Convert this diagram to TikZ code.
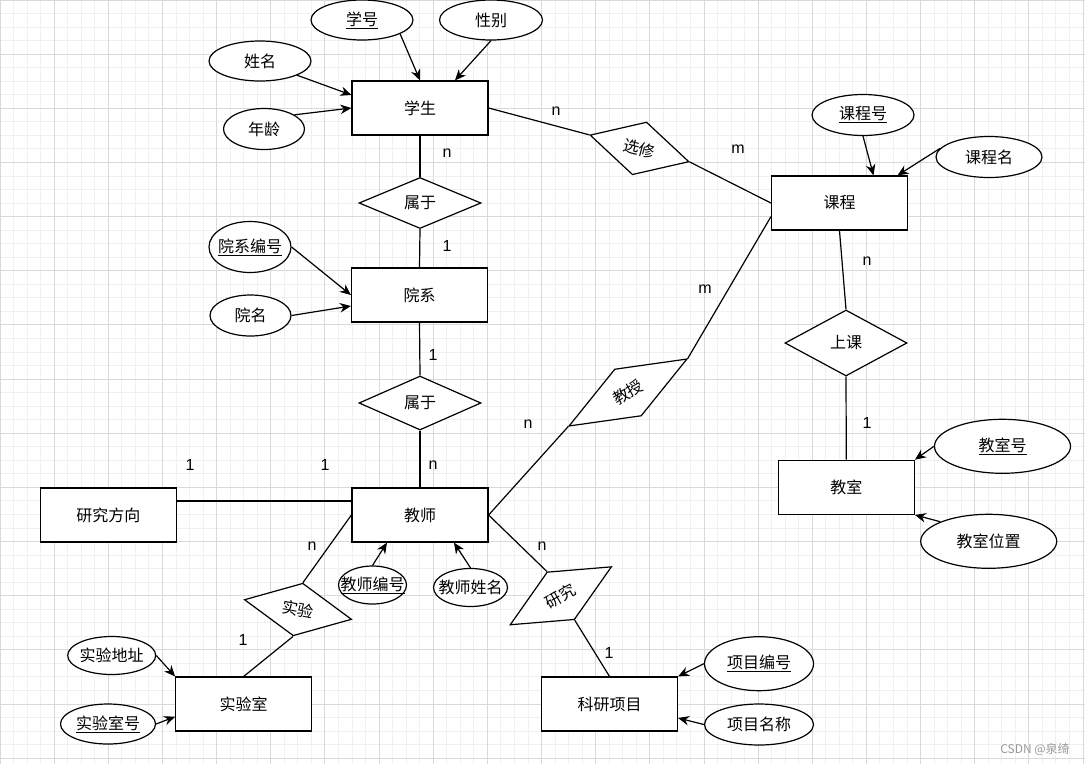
\documentclass[tikz,border=0pt]{standalone}
\usepackage{fontspec}
\setmainfont{Noto Sans CJK SC}
\newfontfamily\lat{Liberation Sans}
\usetikzlibrary{shapes.geometric,arrows.meta}
\newcommand\mk[1]{\makebox[0pt]{#1}}
\begin{document}
\begin{tikzpicture}[x=1pt,y=-1pt,
  every node/.style={font=\fontsize{16}{19}\selectfont},
  ent/.style={draw, line width=1.2pt, minimum width=136pt, minimum height=54pt, inner sep=0pt, fill=white},
  attr/.style={draw, ellipse, line width=1.2pt, inner sep=0pt, fill=white},
  rel/.style={draw, diamond, line width=1.2pt, inner sep=0pt, fill=white},
  lbl/.style={font=\lat\fontsize{16}{19}\selectfont, inner sep=0pt},
  arr/.style={-{Stealth[length=11pt,width=9.5pt]}, line width=1.2pt},
  con/.style={line width=1.2pt},
  minorgrid/.style={draw=black!6, line width=0.9pt},
  majorgrid/.style={draw=black!15, line width=0.9pt}]
\useasboundingbox (0,0) rectangle (1085,764);
\fill[white] (0,0) rectangle (1085,764);
% grid
\foreach \i in {0,...,80} {\draw[minorgrid] (\i*13.5375,0) -- (\i*13.5375,764);}
\foreach \i in {0,...,57} {\draw[minorgrid] (0,\i*13.5375) -- (1085,\i*13.5375);}
\foreach \i in {0,...,20} {\draw[majorgrid] (\i*54.15,0) -- (\i*54.15,764);}
\foreach \i in {0,...,14} {\draw[majorgrid] (0,\i*54.15) -- (1085,\i*54.15);}

% entities
\node[ent] (stu) at (420,108) {\mk{学生}};
\node[ent] (dept) at (419.5,295) {\mk{院系}};
\node[ent] (tea) at (420,515) {\mk{教师}};
\node[ent] (dir) at (108.3,515) {\mk{研究方向}};
\node[ent] (lab) at (243.7,704) {\mk{实验室}};
\node[ent] (proj) at (609.5,704) {\mk{科研项目}};
\node[ent] (course) at (839.5,203) {\mk{课程}};
\node[ent] (room) at (846.3,487.3) {\mk{教室}};

% attributes
\node[attr, minimum width=102pt, minimum height=40pt] (sno) at (362,20) {\mk{\underline{学号}}};
\node[attr, minimum width=103pt, minimum height=40pt] (sex) at (491,20) {\mk{性别}};
\node[attr, minimum width=102pt, minimum height=40pt] (sname) at (260,61) {\mk{姓名}};
\node[attr, minimum width=81pt, minimum height=41pt] (age) at (264,129) {\mk{年龄}};
\node[attr, minimum width=102pt, minimum height=41pt] (cno) at (863,115) {\mk{\underline{课程号}}};
\node[attr, minimum width=106pt, minimum height=41pt] (cname) at (989,157) {\mk{课程名}};
\node[attr, minimum width=82pt, minimum height=51pt] (dno) at (250,247) {\mk{\underline{院系编号}}};
\node[attr, minimum width=81pt, minimum height=41pt] (dname) at (250.5,315.5) {\mk{院名}};
\node[attr, minimum width=68pt, minimum height=38pt] (tno) at (372.5,585) {\mk{\underline{教师编号}}};
\node[attr, minimum width=74pt, minimum height=38pt] (tname) at (470.5,587.5) {\mk{教师姓名}};
\node[attr, minimum width=88pt, minimum height=38pt] (laddr) at (111.7,655.5) {\mk{实验地址}};
\node[attr, minimum width=95pt, minimum height=40pt] (lno) at (108,724) {\mk{\underline{实验室号}}};
\node[attr, minimum width=109pt, minimum height=54pt] (pno) at (759,663.7) {\mk{\underline{项目编号}}};
\node[attr, minimum width=109pt, minimum height=41pt] (pname) at (759,724.5) {\mk{项目名称}};
\node[attr, minimum width=136pt, minimum height=54pt] (rno) at (1002.5,446.3) {\mk{\underline{教室号}}};
\node[attr, minimum width=136pt, minimum height=54pt] (rpos) at (988.7,541.3) {\mk{教室位置}};

% relationships
\node[rel, minimum width=122pt, minimum height=51pt] (belong1) at (420,203) {\mk{属于}};
\node[rel, minimum width=122pt, minimum height=54pt] (belong2) at (420,403) {\mk{属于}};
\node[rel, minimum width=122pt, minimum height=66pt] (attend) at (846,343) {\mk{上课}};
\node[rel, minimum width=102.5pt, minimum height=54.6pt, rotate=-15.1] (elect) at (639.5,148.4) {选修};
\node[rel, minimum width=136pt, minimum height=54pt, rotate=29.6] (teach) at (628,392.5) {教授};
\node[rel, minimum width=117pt, minimum height=55pt, rotate=29.8] (research) at (560.8,595.8) {研究};
\node[rel, minimum width=109pt, minimum height=53.5pt, rotate=-10.4] (exper) at (298,609.5) {实验};

% connectors
\draw[con] (stu.east) -- (elect.west);
\draw[con] (elect.east) -- (course.west);
\draw[con] (tea.east) -- (teach.west);
\draw[con] (teach.east) -- ([yshift=-13.7pt]course.west);
\draw[con] (tea.east) -- (research.north);
\draw[con] (research.south) -- (proj.north);
\draw[con] (tea.west) -- (exper.north);
\draw[con] (exper.south) -- (lab.north);
\draw[con] ([yshift=14pt]dir.east) -- ([yshift=14pt]tea.west);
\draw[con] (stu.south) -- (belong1.north);
\draw[con] (belong1.south) -- (dept.north);
\draw[con] (dept.south) -- (belong2.north);
\draw[con] (belong2.south) -- (tea.north);
\draw[con] (course.south) -- (attend.north);
\draw[con] (attend.south) -- (room.north);

% attribute arrows
\draw[arr] (sno.-20) -- (stu.north);
\draw[arr] (sex.south) -- ([xshift=35pt]stu.north);
\draw[arr] (sname.-21) -- ([yshift=13pt]stu.west);
\draw[arr] (age.25) -- (stu.west);
\draw[arr] (dno.east) -- (dept.west);
\draw[arr] (dname.east) -- ([yshift=-11pt]dept.west);
\draw[arr] (cno.south) -- ([xshift=34pt]course.north);
\draw[arr] (cname.170) -- ([xshift=58pt]course.north);
\draw[arr] (rno.west) -- (room.north east);
\draw[arr] (rpos.158) -- (room.south east);
\draw[arr] (tno.north) -- ([xshift=-33pt]tea.south);
\draw[arr] (tname.north) -- ([xshift=34pt]tea.south);
\draw[arr] (laddr.east) -- (lab.north west);
\draw[arr] (lno.east) -- ([yshift=-12.7pt]lab.west);
\draw[arr] (pno.west) -- (proj.north east);
\draw[arr] (pname.west) -- ([yshift=-14pt]proj.east);

% cardinality labels
\node[lbl] (l1) at (556,111) {n};
\node[lbl] (l2) at (738,149) {m};
\node[lbl] (l3) at (447,153) {n};
\node[lbl] (l4) at (447,246) {1};
\node[lbl] (l5) at (433,355) {1};
\node[lbl] (l6) at (433,465) {n};
\node[lbl] (l7) at (190,465) {1};
\node[lbl] (l8) at (325,465) {1};
\node[lbl] (l9) at (705,289) {m};
\node[lbl] (l10) at (867,261) {n};
\node[lbl] (l11) at (867,423) {1};
\node[lbl] (l12) at (528,424) {n};
\node[lbl] (l13) at (312,546) {n};
\node[lbl] (l14) at (243,640) {1};
\node[lbl] (l15) at (542,546) {n};
\node[lbl] (l16) at (609,653) {1};

% watermark
\node[font=\fontsize{12}{14}\selectfont, text=black!40, inner sep=0pt] (wm) at (1035,749) {CSDN @泉绮};
\end{tikzpicture}
\end{document}
